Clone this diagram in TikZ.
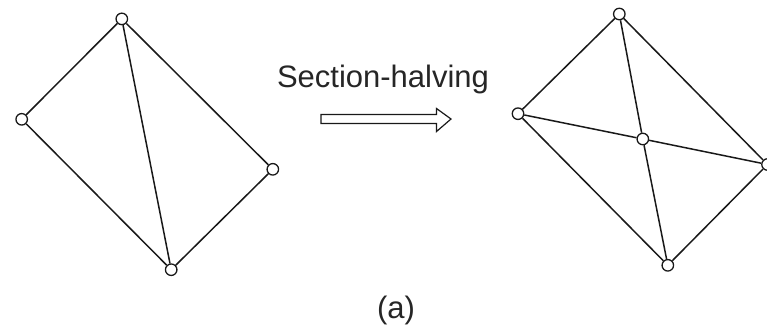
\documentclass[tikz,border=0pt]{standalone}
\usepackage{fontspec}
\setmainfont{Liberation Sans}
\begin{document}
\begin{tikzpicture}[x=1pt,y=-1pt,
  vtx/.style={circle,draw=black!90,fill=white,line width=1.3pt,inner sep=0pt,minimum size=11.5pt},
  edge/.style={draw=black!90,line width=1.5pt},
  lbl/.style={font=\fontsize{31}{37}\selectfont,text=black!85,inner sep=0pt}]
\useasboundingbox (0,0) rectangle (767,335);
% left figure
\node[vtx] (a1) at (121.8,18.9) {};
\node[vtx] (b1) at (21.7,119.3) {};
\node[vtx] (c1) at (272.8,169.3) {};
\node[vtx] (d1) at (171.2,269.7) {};
\path[edge] (a1) -- (b1);
\path[edge] (a1) -- (c1);
\path[edge] (a1) -- (d1);
\path[edge] (b1) -- (d1);
\path[edge] (c1) -- (d1);
% right figure
\node[vtx] (t2) at (619.3,14) {};
\node[vtx] (l2) at (518,113.7) {};
\node[vtx] (m2) at (642.8,139) {};
\node[vtx] (r2) at (767.5,164.5) {};
\node[vtx] (u2) at (667.8,265.3) {};
\path[edge] (t2) -- (l2);
\path[edge] (t2) -- (r2);
\path[edge] (t2) -- (m2);
\path[edge] (m2) -- (u2);
\path[edge] (l2) -- (m2);
\path[edge] (m2) -- (r2);
\path[edge] (l2) -- (u2);
\path[edge] (r2) -- (u2);
% label and arrow
\node[lbl,anchor=base] (title) at (383,87) {Section-halving};
\draw[black!90,line width=1.2pt,line join=miter]
  (321,114.5) -- (436.5,114.5) -- (436.5,108.5) -- (451,119) -- (436.5,131.5)
  -- (436.5,123.5) -- (321,123.5) -- cycle;
\node[lbl,anchor=base] (cap) at (396,318.5) {(a)};
\end{tikzpicture}
\end{document}
